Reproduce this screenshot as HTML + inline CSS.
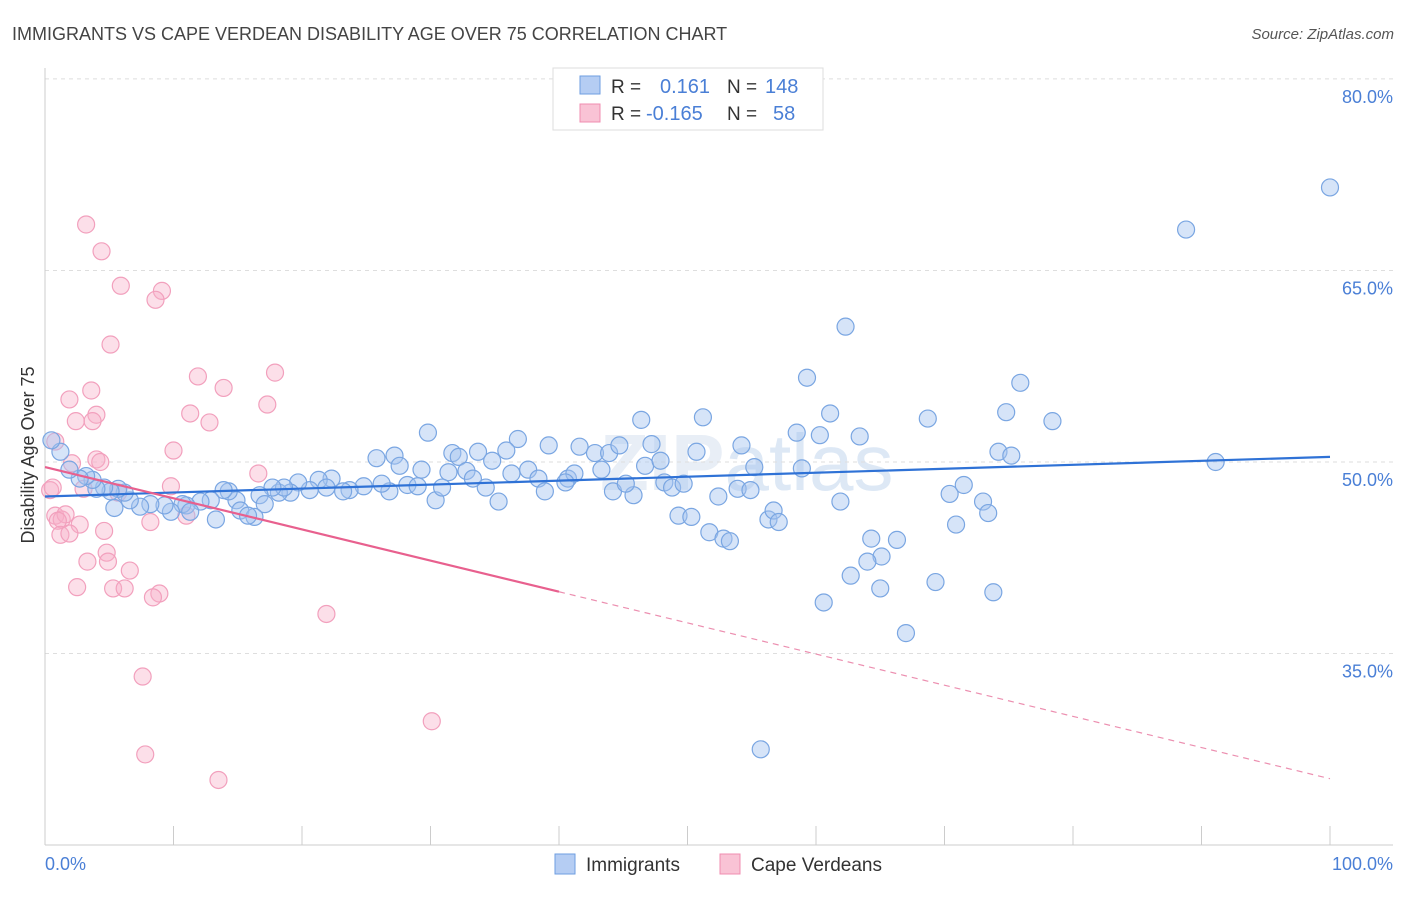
<!DOCTYPE html>
<html><head><meta charset="utf-8"><style>
body{margin:0;background:#fff;font-family:"Liberation Sans",sans-serif;}
svg text{font-family:"Liberation Sans",sans-serif;}
</style></head><body>
<svg id="chart" width="1406" height="892" xmlns="http://www.w3.org/2000/svg">
<text x="12" y="40" font-size="18" fill="#444">IMMIGRANTS VS CAPE VERDEAN DISABILITY AGE OVER 75 CORRELATION CHART</text>
<text x="1394" y="39" font-size="15" fill="#555" font-style="italic" text-anchor="end">Source: ZipAtlas.com</text>
<text x="600" y="490" font-size="80" fill="#e8eef6" font-weight="bold">ZIP<tspan font-weight="normal" fill="#dde8f5">atlas</tspan></text>
<g id="grid"></g><g id="axes"></g><g id="pinkpts"></g><g id="bluepts"></g><g id="lines"></g>
<text transform="translate(34,455) rotate(-90)" font-size="18" fill="#333" text-anchor="middle">Disability Age Over 75</text>
<text x="45" y="870" font-size="18" fill="#4a7fd6">0.0%</text>
<text x="1393" y="870" font-size="18" fill="#4a7fd6" text-anchor="end">100.0%</text>
<g>
<rect x="553" y="68" width="270" height="62" fill="#fff" stroke="#ddd"/>
<rect x="580" y="76" width="20" height="18" fill="#b5cdf3" stroke="#6e9ee0"/>
<rect x="580" y="104" width="20" height="18" fill="#f9c3d5" stroke="#f08cb0"/>
<text x="611" y="93" font-size="19" fill="#333">R =</text><text x="660" y="93" font-size="20" fill="#4a7fd6">0.161</text>
<text x="727" y="93" font-size="19" fill="#333">N =</text><text x="765" y="93" font-size="20" fill="#4a7fd6">148</text>
<text x="611" y="120" font-size="19" fill="#333">R =</text><text x="646" y="120" font-size="20" fill="#4a7fd6">-0.165</text>
<text x="727" y="120" font-size="19" fill="#333">N =</text><text x="773" y="120" font-size="20" fill="#4a7fd6">58</text>
</g>
<g>
<rect x="555" y="854" width="20" height="20" fill="#b5cdf3" stroke="#6e9ee0"/>
<text x="586" y="871" font-size="19" fill="#333">Immigrants</text>
<rect x="720" y="854" width="20" height="20" fill="#f9c3d5" stroke="#f08cb0"/>
<text x="751" y="871" font-size="19" fill="#333">Cape Verdeans</text>
</g>
</svg>
<script>
const yTicks=[35,50,65,80];
const yTickLabels=["35.0%","50.0%","65.0%","80.0%"];
const xTicks=[0,10,20,30,40,50,60,70,80,90,100];
const blueX=[100,88.8,62.3,59.3,75.9,74.8,78.4,68.7,61.1,58.5,60.3,63.4,54.2,51.2,46.4,47.2,50.7,74.2,75.2,91.1,58.9,55.2,46.7,47.9,43.3,41.6,42.8,43.9,44.7,39.2,36.8,35.9,33.7,31.7,32.2,29.8,34.8,27.2,25.8,27.6,29.3,31.4,32.8,36.3,37.6,38.4,40.7,41.2,40.5,38.9,34.3,33.3,35.3,30.4,30.9,28.2,29.0,26.8,26.2,24.8,23.7,23.2,22.3,21.3,21.9,20.6,19.7,19.1,18.2,18.6,17.7,16.7,17.1,14.9,14.3,13.9,12.9,12.1,11.0,10.7,9.8,9.3,8.2,7.4,6.6,6.2,5.7,5.1,4.6,4.0,3.7,3.2,2.7,1.9,1.2,0.5,5.4,13.3,15.2,16.3,15.8,11.3,44.2,45.8,45.2,48.2,48.8,49.7,52.4,53.9,54.9,49.3,50.3,51.7,52.8,53.3,56.3,56.7,57.1,61.9,70.4,71.5,73.0,73.4,70.9,64.3,66.3,65.1,64.0,62.7,65.0,69.3,73.8,60.6,67.0,55.7];
const blueY=[71.5,68.2,60.6,56.6,56.2,53.9,53.2,53.4,53.8,52.3,52.1,52.0,51.3,53.5,53.3,51.4,50.8,50.8,50.5,50.0,49.5,49.6,49.7,50.1,49.4,51.2,50.7,50.7,51.3,51.3,51.8,50.9,50.8,50.7,50.4,52.3,50.1,50.5,50.3,49.7,49.4,49.2,49.3,49.1,49.4,48.7,48.7,49.1,48.4,47.7,48.0,48.7,46.9,47.0,48.0,48.2,48.1,47.7,48.3,48.1,47.8,47.7,48.7,48.6,48.0,47.8,48.4,47.6,47.6,48.0,48.0,47.4,46.7,47.0,47.7,47.8,47.0,46.9,46.6,46.7,46.1,46.6,46.7,46.5,47.0,47.6,47.9,47.7,48.0,47.9,48.6,48.9,48.7,49.4,50.8,51.7,46.4,45.5,46.2,45.7,45.8,46.1,47.7,47.4,48.3,48.4,48.0,48.3,47.3,47.9,47.8,45.8,45.7,44.5,44.0,43.8,45.5,46.2,45.3,46.9,47.5,48.2,46.9,46.0,45.1,44.0,43.9,42.6,42.2,41.1,40.1,40.6,39.8,39.0,36.6,27.5];
const pinkX=[3.2,4.4,5.9,9.1,8.6,5.1,11.9,17.9,13.9,3.6,1.9,17.3,11.3,4.0,2.4,3.7,12.8,0.8,10.0,2.1,4.0,4.3,16.6,3.0,0.4,0.6,9.8,5.7,0.8,1.3,1.6,1.0,11.0,8.2,2.7,1.2,1.9,4.6,4.8,4.9,3.3,6.6,2.5,5.3,6.2,8.9,8.4,21.9,7.6,30.1,7.8,13.5];
const pinkY=[68.6,66.5,63.8,63.4,62.7,59.2,56.7,57.0,55.8,55.6,54.9,54.5,53.8,53.7,53.2,53.2,53.1,51.6,50.9,49.9,50.2,50.0,49.1,47.9,47.8,48.0,48.1,47.6,45.8,45.5,45.9,45.4,45.8,45.3,45.1,44.3,44.4,44.6,42.9,42.2,42.2,41.5,40.2,40.1,40.1,39.7,39.4,38.1,33.2,29.7,27.1,25.1];
const blueTrend=[47.3,50.4];
const pinkTrend=[49.6,25.2];
const pinkSolidEnd=40;
const NS="http://www.w3.org/2000/svg";
const X=v=>45+v*12.85;
const Y=v=>462-(v-50)*12.77;
function mk(tag,parent,attrs){const e=document.createElementNS(NS,tag);for(const k in attrs)e.setAttribute(k,attrs[k]);document.getElementById(parent).appendChild(e);return e;}
yTicks.forEach((t,i)=>{
 const l=mk('line','grid',{x1:45,x2:1393,y1:Y(t),y2:Y(t),stroke:'#dedede','stroke-dasharray':'4,4'});
 
 
 const tx=mk('text','grid',{x:1393,y:Y(t)+24,'font-size':18,fill:'#4a7fd6','text-anchor':'end'});
 tx.textContent=yTickLabels[i];
 
 
});
const ya=mk('line','axes',{x1:45,x2:45,y1:68,y2:845,stroke:'#ccc'});


const xa=mk('line','axes',{x1:45,x2:1393,y1:845,y2:845,stroke:'#ccc'});


xTicks.forEach(t=>{
 const l=mk('line','axes',{x1:X(t),x2:X(t),y1:826,y2:845,stroke:'#ccc'});
 
 
});
pinkX.forEach((v,i)=>{
 const c=mk('circle','pinkpts',{cx:X(v),cy:Y(pinkY[i]),r:8.5,fill:'rgba(248,175,200,0.4)',stroke:'#f2a0bd','stroke-width':1.2});
 
 
});
blueX.forEach((v,i)=>{
 const c=mk('circle','bluepts',{cx:X(v),cy:Y(blueY[i]),r:8.5,fill:'rgba(165,195,240,0.45)',stroke:'#7aa6e2','stroke-width':1.2});
 
 
});
const bl=mk('line','lines',{x1:X(0),y1:Y(blueTrend[0]),x2:X(100),y2:Y(blueTrend[1]),stroke:'#2f72d6','stroke-width':2.2});


const pAt=v=>pinkTrend[0]+(pinkTrend[1]-pinkTrend[0])*v/100;
const pl=mk('line','lines',{x1:X(0),y1:Y(pAt(0)),x2:X(pinkSolidEnd),y2:Y(pAt(pinkSolidEnd)),stroke:'#e8608e','stroke-width':2.2});


const pd=mk('line','lines',{x1:X(pinkSolidEnd),y1:Y(pAt(pinkSolidEnd)),x2:X(100),y2:Y(pAt(100)),stroke:'#ec8fb0','stroke-width':1.2,'stroke-dasharray':'6,5'});


</script>
</body></html>
